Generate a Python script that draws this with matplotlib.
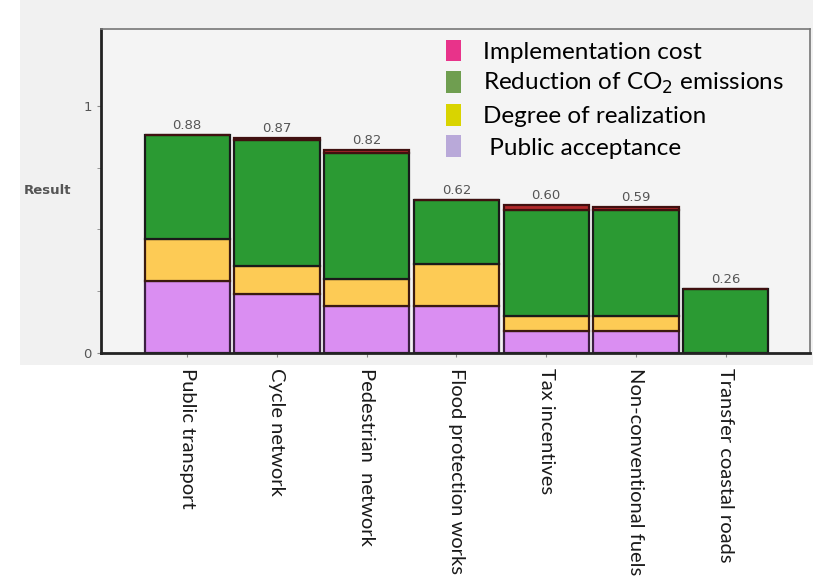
import matplotlib.pyplot as plt
import numpy as np
from matplotlib.patches import Patch, Rectangle

measures = ['Public transport', 'Cycle network', 'Pedestrian  network',
            'Flood protection works', 'Tax incentives', 'Non-conventional fuels',
            'Transfer coastal roads']
acceptance = [0.29, 0.24, 0.19, 0.19, 0.09, 0.09, 0.0]
realization = [0.17, 0.11, 0.11, 0.17, 0.06, 0.06, 0.0]
co2 = [0.42, 0.51, 0.51, 0.26, 0.43, 0.43, 0.26]
cost = [0.0, 0.01, 0.01, 0.0, 0.02, 0.01, 0.0]
totals = ['0.88', '0.87', '0.82', '0.62', '0.60', '0.59', '0.26']

legend_labels = ['Implementation cost', 'Reduction of CO$_2$ emissions',
                 'Degree of realization', ' Public acceptance']

fig = plt.figure(figsize=(8.13, 5.87), dpi=100, facecolor='white')
# grey backdrop of the upper part (the source picture is a composite)
fig.patches.append(Rectangle((0.025, 0.378), 0.975, 0.622, transform=fig.transFigure,
                             facecolor='#f1f1f1', edgecolor='none', zorder=-10))
ax = fig.add_axes([101/813, 1-353/587, (810-101)/813, (353-29)/587])
ax.set_facecolor('#f4f4f4')

x = np.arange(len(measures))
w = 0.95
lw = 1.6
b1 = np.array(acceptance)
b2 = b1 + np.array(realization)
b3 = b2 + np.array(co2)
ax.bar(x, acceptance, w, color='#da8ef2', edgecolor='#3a2040', linewidth=lw)
ax.bar(x, realization, w, bottom=b1, color='#fdcb55', edgecolor='#3a1a10', linewidth=lw)
ax.bar(x, co2, w, bottom=b2, color='#2b9a33', edgecolor='#1a1a1a', linewidth=lw)
ax.bar(x, cost, w, bottom=b3, color='#b0282a', edgecolor='#401010', linewidth=lw)

tops = b3 + np.array(cost)
for xi, t, lab in zip(x, tops, totals):
    ax.text(xi, t + 0.012, lab, ha='center', va='bottom', fontsize=9.5, color='#555555')

ax.set_xlim(-0.96, 6.94)
ax.set_ylim(0, 1.31)
ax.set_yticks([0, 1])
ax.set_yticklabels(['0', '1'], fontsize=9.5, color='#555555')
ax.set_yticks([0.25, 0.5, 0.75], minor=True)
ax.tick_params(axis='y', which='both', length=3, color='#888888')
ax.set_xticks(x)
ax.set_xticklabels(measures, rotation=270, fontsize=14.5, family='Lato', color='#1a1a1a')
ax.tick_params(axis='x', length=3, color='#888888', pad=8)
ax.set_ylabel('Result', rotation=0, fontsize=9.5, color='#555555', fontweight='bold',
              ha='center', va='center')
ax.yaxis.set_label_coords(-0.076, 0.50)

for s in ['left', 'bottom']:
    ax.spines[s].set_linewidth(2)
    ax.spines[s].set_color('#222222')
for s in ['top', 'right']:
    ax.spines[s].set_linewidth(1.2)
    ax.spines[s].set_color('#777777')

handles = [Patch(facecolor=c) for c in ['#e8338a', '#6f9e50', '#d9d400', '#b9a9d9']]
ax.legend(handles, legend_labels, loc='upper left', bbox_to_anchor=(0.456, 1.035),
          frameon=False, prop={'family': 'Lato', 'size': 17.5},
          handlelength=0.6, handleheight=1.0, handletextpad=0.9, labelspacing=0.33)

fig.savefig('out.png', dpi=100, facecolor=fig.get_facecolor())
